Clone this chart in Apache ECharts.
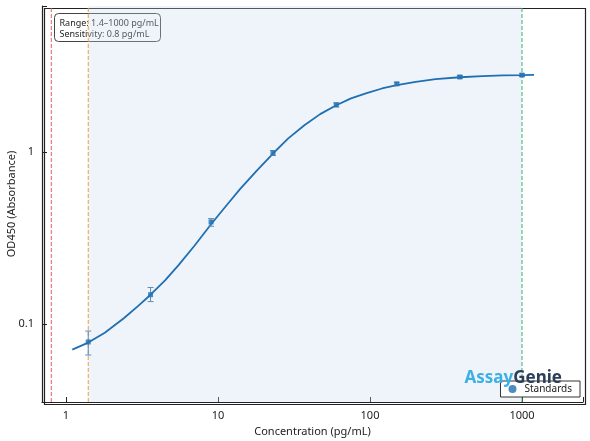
<!DOCTYPE html><html><head><meta charset="utf-8"><script src="https://cdn.jsdelivr.net/npm/echarts@6/dist/echarts.min.js"></script></head><body style="margin:0"><div id="c" style="width:590px;height:441px"></div><script>
const stdConc=[1.4,3.6,9,23,60,150,390,1000];
const stdOD=[0.0786,0.148,0.392,0.987,1.88,2.49,2.73,2.80];
const stdLo=[0.066,0.135,0.37,0.955,1.83,2.44,2.68,2.75];
const stdHi=[0.091,0.163,0.41,1.02,1.93,2.54,2.78,2.85];
const fitConc=[1.1,1.4,1.8,2.4,3,3.6,4.5,5.5,7,9,11.5,14,18,23,29,37,47,60,75,95,120,150,200,270,390,550,750,1000,1200];
const fitOD=[0.071,0.078,0.089,0.108,0.128,0.148,0.18,0.22,0.285,0.38,0.495,0.61,0.78,0.98,1.2,1.43,1.66,1.87,2.05,2.2,2.34,2.45,2.56,2.65,2.72,2.76,2.79,2.80,2.81];
const xTicks=[1,10,100,1000], yTicks=[0.1,1];
const ch=echarts.init(document.getElementById('c'));
const ax={fontFamily:'Noto Sans',fontSize:11,color:'#222'};
const blue='#1f6fb2';
const vline=(x,c)=>({type:'line',data:[[x,0.0352],[x,7.06]],showSymbol:false,silent:true,lineStyle:{color:c,type:'dashed',width:1},z:2});
ch.setOption({
animation:false,
grid:{left:42,right:7,top:6,bottom:39,outerBoundsMode:'none',containLabel:false},
xAxis:{type:'log',min:0.695,max:2520,name:'Concentration (pg/mL)',nameLocation:'middle',nameGap:24,nameTextStyle:ax,
 axisLine:{lineStyle:{color:'#222',width:1.2}},axisTick:{inside:true,length:5,lineStyle:{color:'#222'}},
 axisLabel:{...ax,formatter:v=>xTicks.includes(+(+v).toPrecision(3))?String(+(+v).toPrecision(3)):''},splitLine:{show:false}},
yAxis:{type:'log',min:0.0352,max:7.06,
 axisLine:{lineStyle:{color:'#222',width:1.2}},axisTick:{inside:true,length:5,lineStyle:{color:'#222'}},
 axisLabel:{...ax,formatter:v=>yTicks.includes(+(+v).toPrecision(3))?String(+(+v).toPrecision(3)):''},splitLine:{show:false}},
legend:{right:10,bottom:44,itemWidth:14,itemHeight:8,data:[{name:'Standards',icon:'circle'}],textStyle:{fontFamily:'Noto Sans',fontSize:10,color:'#222'},borderColor:'#333',borderWidth:1,borderRadius:0,padding:[3,8,3,8],backgroundColor:'#fff'},
graphic:[
 {type:'rect',left:42,top:6,shape:{width:541,height:396},style:{fill:'none',stroke:'#222',lineWidth:1.2},silent:true},
 {type:'text',x:12,y:204,rotation:Math.PI/2,style:{text:'OD450 (Absorbance)',fontFamily:'Noto Sans',fontSize:11,fill:'#222',align:'center',verticalAlign:'middle'}},
 {type:'group',left:54,top:13,children:[
  {type:'rect',shape:{x:0,y:0,width:106,height:28,r:4},style:{fill:'#fff',stroke:'#444',lineWidth:1}},
  {type:'text',style:{x:5,y:4,text:'Range: 1.4–1000 pg/mL\nSensitivity: 0.8 pg/mL',fontFamily:'Noto Sans',fontSize:9,lineHeight:11,fill:'#222'}}]},
 {type:'text',right:28,bottom:54,z:100,style:{text:'{a|Assay}{b|Genie}',rich:{a:{fontFamily:'Noto Sans',fontSize:17,fontWeight:'bold',fill:'#3ab0e6'},b:{fontFamily:'Noto Sans',fontSize:17,fontWeight:'bold',fill:'#2b3f5a'}}}}
],
series:[
 {type:'line',name:'fit',data:fitConc.map((x,i)=>[x,fitOD[i]]),smooth:false,showSymbol:false,lineStyle:{color:blue,width:1.8},z:3,
  markArea:{silent:true,itemStyle:{color:'rgba(200,220,235,0.3)'},data:[[{xAxis:1.4},{xAxis:1000}]]}},
 vline(0.8,'#e06060'),vline(1.4,'#e8a040'),vline(1000,'#3cb371'),
 {type:'custom',name:'err',data:stdConc.map((x,i)=>[x,stdLo[i],stdHi[i]]),z:4,
  renderItem:(p,api)=>{const a=api.coord([api.value(0),api.value(1)]),b=api.coord([api.value(0),api.value(2)]);
   const s={stroke:'#5b8fc0',lineWidth:1};
   return {type:'group',children:[{type:'line',shape:{x1:a[0],y1:a[1],x2:b[0],y2:b[1]},style:s},
    {type:'line',shape:{x1:a[0]-3,y1:a[1],x2:a[0]+3,y2:a[1]},style:s},{type:'line',shape:{x1:b[0]-3,y1:b[1],x2:b[0]+3,y2:b[1]},style:s}]};}},
 {type:'scatter',name:'Standards',data:stdConc.map((x,i)=>[x,stdOD[i]]),symbol:'rect',symbolSize:5,itemStyle:{color:blue},z:5}
]});
</script></body></html>
